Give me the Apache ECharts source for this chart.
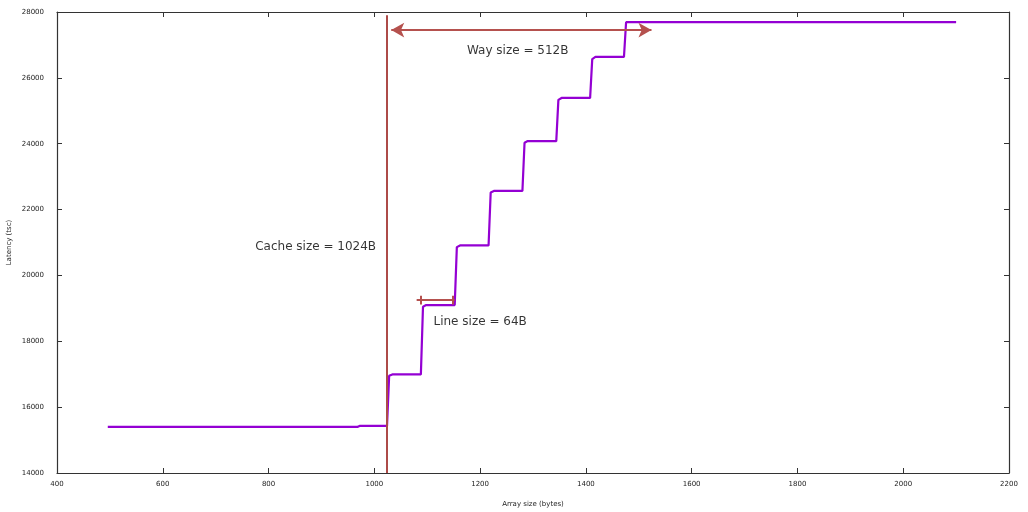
<!DOCTYPE html>
<html>
<head>
<meta charset="utf-8">
<title>Cache latency</title>
<script src="https://cdn.jsdelivr.net/npm/echarts@6/dist/echarts.min.js"></script>
<style>
	html, body { margin: 0; padding: 0; background: #fff; }
	#chart { width: 1028px; height: 512px; }
</style>
</head>
<body>
<div id="chart"></div>
<script>
// 测量数据：数组大小 (bytes) 与延迟 (tsc)
var arraySize = [496, 968, 972, 1024, 1028, 1034, 1088, 1092, 1098, 1152, 1156, 1162, 1216,
	1220, 1226, 1280, 1284, 1290, 1344, 1348, 1354, 1408, 1412, 1418, 1472, 1476, 2100];
var latency = [15400, 15400, 15430, 15430, 16950, 16995, 16995, 19050, 19100, 19100, 20860, 20910, 20910,
	22520, 22565, 22565, 24030, 24080, 24080, 25330, 25390, 25390, 26570, 26635, 26635, 27690, 27690];

// 刻度
var xTicks = [400, 2200, 200];
var yTicks = [14000, 28000, 2000];

// 标注
var cacheSize = 1024;
var wayArrow = [1032, 1524, 27450];
var lineArrow = [1080, 1152, 19250];
var lineBars = [1088, 1148];
var notes = [
	{ name: 'Cache size = 1024B', value: [889, 20860] },
	{ name: 'Way size = 512B', value: [1271, 26820] },
	{ name: 'Line size = 64B', value: [1200, 18590] }
];

var font = 'DejaVu Sans';
var frame = '#333333';
var red = '#b5514e';

var points = [];
for (var i = 0; i < arraySize.length; i++) {
	points.push([arraySize[i], latency[i]]);
}

function axis(pos, main, t, nm) {
	var a = {
		type: 'value',
		position: pos,
		min: t[0],
		max: t[1],
		interval: t[2],
		axisLine: { show: true, onZero: false, lineStyle: { color: frame, width: 1.2 } },
		axisTick: { show: true, inside: true, length: 5, lineStyle: { color: frame } },
		axisLabel: {
			show: main, fontFamily: font, fontSize: 7, color: '#222', margin: 8,
			formatter: function(v) { return String(v); } // 不要千分位
		},
		splitLine: { show: false }
	};
	if (main) {
		a.name = nm;
		a.nameLocation = 'middle';
		a.nameMoveOverlap = false;
		a.nameTextStyle = { fontFamily: font, fontSize: 7, color: '#222' };
	}
	return a;
}

var xMain = axis('bottom', true, xTicks, 'Array size (bytes)');
xMain.nameGap = 28;
var yMain = axis('left', true, yTicks, 'Latency (tsc)');
yMain.nameGap = 44;
yMain.axisLabel.margin = 13;

function seg(a, b, c, d, sym, col) {
	return [
		{ coord: [a, b], symbol: sym, lineStyle: { color: col, width: 2, type: 'solid' } },
		{ coord: [c, d], symbol: sym }
	];
}

var marks = [
	seg(cacheSize, yTicks[0], cacheSize, 27900, 'none', '#ad4b48'),
	seg(wayArrow[0], wayArrow[2], wayArrow[1], wayArrow[2], 'arrow', red),
	seg(lineArrow[0], lineArrow[2], lineArrow[1], lineArrow[2], 'none', red)
];
lineBars.forEach(function(b) {
	marks.push(seg(b, lineArrow[2] - 130, b, lineArrow[2] + 130, 'none', red));
});

var chart = echarts.init(document.getElementById('chart'));
chart.setOption({
	backgroundColor: '#fff',
	animation: false,
	grid: { left: 57, right: 19, top: 12, bottom: 39, outerBoundsMode: 'none', containLabel: false },
	xAxis: [xMain, axis('top', false, xTicks)],
	yAxis: [yMain, axis('right', false, yTicks)],
	series: [{
		name: 'latency',
		type: 'line',
		data: points,
		showSymbol: false,
		lineStyle: { color: '#9400d3', width: 2.2 },
		z: 3,
		markLine: {
			silent: true,
			symbol: 'none',
			symbolSize: [11, 13],
			label: { show: false },
			lineStyle: { type: 'solid' },
			data: marks
		}
	}, {
		name: 'notes',
		type: 'scatter',
		data: notes,
		symbolSize: 0,
		label: {
			show: true,
			position: 'inside',
			formatter: '{b}',
			fontFamily: font,
			fontSize: 12,
			color: '#000'
		}
	}]
});
</script>
</body>
</html>
